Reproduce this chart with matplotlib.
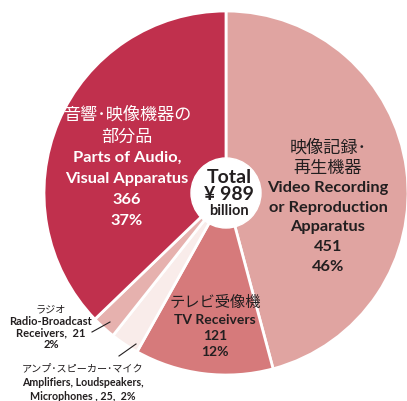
import matplotlib.pyplot as plt
from matplotlib.patches import Circle

# data, clockwise from 12 o'clock
values = [451, 121, 25, 21, 366]
colors = ['#e0a4a1', '#d67a7b', '#f9ecea', '#e6b1ae', '#c0304d']

labels_parts = ['音響･映像機器の', '部分品', 'Parts of Audio,', 'Visual Apparatus', '366', '37%']
labels_video = ['映像記録･', '再生機器', 'Video Recording', 'or Reproduction', 'Apparatus', '451', '46%']
labels_tv = ['テレビ受像機', 'TV Receivers', '121', '12%']
labels_radio = ['ラジオ', 'Radio-Broadcast', 'Receivers,  21', '2%']
labels_amp = ['アンプ･スピーカー･マイク', 'Amplifiers, Loudspeakers,', 'Microphones , 25,  2%']
total_text = ['Total', '¥ 989', 'billion']

W, H = 407, 402
jp = ['Noto Sans CJK JP', 'DejaVu Sans']
en = ['Lato', 'DejaVu Sans']
dark = '#231f20'

fig = plt.figure(figsize=(W / 100, H / 100), dpi=100)
ax = fig.add_axes([0, 0, 1, 1])

cx, cy, r = 226, H - 194, 182
ax.pie(values, colors=colors, startangle=90, counterclock=False, radius=r,
       center=(cx, cy), wedgeprops=dict(edgecolor='white', linewidth=2))
ax.add_patch(Circle((cx, cy), 35, color='white', zorder=5))
ax.set_xlim(0, W)
ax.set_ylim(0, H)
ax.set_aspect('auto')
ax.axis('off')


def put(x, y, s, color, size, bold, fam):
    ax.text(x, H - y, s, color=color, fontsize=size, family=fam,
            fontweight='bold' if bold else 'normal', ha='center', va='center', zorder=6)


# parts of audio
ys = [115, 137, 158, 179, 200, 221]
for i, (s, y) in enumerate(zip(labels_parts, ys)):
    put(127, y, s, 'white', 12.3 if i < 2 else 11.8, i >= 2, jp if i < 2 else en)

# video
ys = [148, 168, 188, 208, 227, 247, 267]
for i, (s, y) in enumerate(zip(labels_video, ys)):
    put(328, y, s, dark, 12.3 if i < 2 else 11.8, i >= 2, jp if i < 2 else en)

# tv
ys = [303, 320, 336, 352]
for i, (s, y) in enumerate(zip(labels_tv, ys)):
    put(215, y, s, dark, 11 if i < 1 else 10, i >= 1, jp if i < 1 else en)

# center
put(229, 178, total_text[0], dark, 14, True, en)
put(229, 195, total_text[1], dark, 14, True, en)
put(229, 211, total_text[2], dark, 10.5, True, en)

# radio
ys = [309, 322, 333, 345]
for i, (s, y) in enumerate(zip(labels_radio, ys)):
    put(51, y, s, dark, 7.3 if i < 1 else 8, i >= 1, jp if i < 1 else en)
ax.plot([92, 110], [H - 333, H - 323], color=dark, lw=0.8, zorder=6)

# amplifiers
ys = [368, 383, 397]
for i, (s, y) in enumerate(zip(labels_amp, ys)):
    put(83, y, s, dark, 7.3 if i < 1 else 7.7, i >= 1, jp if i < 1 else en)
ax.plot([119, 136], [H - 357, H - 345], color=dark, lw=0.8, zorder=6)

fig.savefig('out.png', dpi=100)
